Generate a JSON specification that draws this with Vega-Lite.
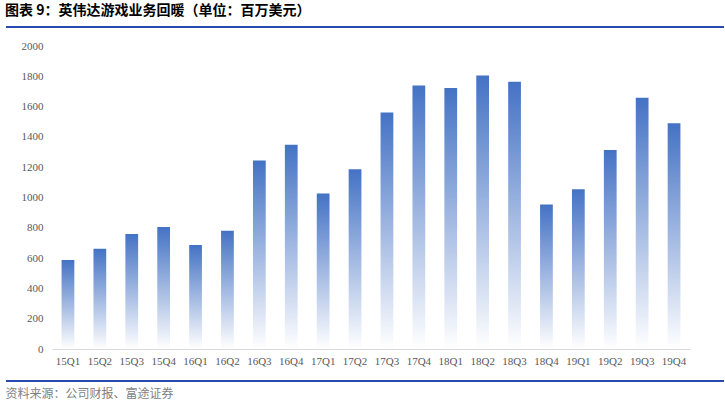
{
  "$schema": "https://vega.github.io/schema/vega-lite/v6.json",
  "width": 638,
  "height": 303,
  "autosize": {"type": "none"},
  "padding": {"left": 52, "top": 46, "right": 35, "bottom": 54},
  "background": "white",
  "title": {
    "text": "图表 9：英伟达游戏业务回暖（单位：百万美元）",
    "anchor": "start",
    "frame": "group",
    "dx": -47,
    "offset": 8,
    "font": "Noto Sans CJK SC",
    "fontSize": 14,
    "fontWeight": "bold",
    "color": "#000000"
  },
  "config": {
    "view": {"stroke": null},
    "axis": {"labelFont": "Liberation Serif", "labelFontSize": 11, "labelColor": "#595959", "titleFont": "Noto Sans CJK SC"},
    "axisY": {"grid": false, "domain": false, "ticks": false, "labelPadding": 9, "labelOverlap": false, "format": "d", "title": null}
  },
  "data": {
    "values": [
      {"quarter": "15Q1", "revenue": 588},
      {"quarter": "15Q2", "revenue": 661},
      {"quarter": "15Q3", "revenue": 759},
      {"quarter": "15Q4", "revenue": 805},
      {"quarter": "16Q1", "revenue": 687},
      {"quarter": "16Q2", "revenue": 781},
      {"quarter": "16Q3", "revenue": 1244},
      {"quarter": "16Q4", "revenue": 1348},
      {"quarter": "17Q1", "revenue": 1027},
      {"quarter": "17Q2", "revenue": 1186},
      {"quarter": "17Q3", "revenue": 1561},
      {"quarter": "17Q4", "revenue": 1739},
      {"quarter": "18Q1", "revenue": 1723},
      {"quarter": "18Q2", "revenue": 1805},
      {"quarter": "18Q3", "revenue": 1764},
      {"quarter": "18Q4", "revenue": 954},
      {"quarter": "19Q1", "revenue": 1055},
      {"quarter": "19Q2", "revenue": 1313},
      {"quarter": "19Q3", "revenue": 1659},
      {"quarter": "19Q4", "revenue": 1490}
    ]
  },
  "layer": [
    {
      "mark": {
        "type": "bar",
        "color": {
          "gradient": "linear",
          "x1": 0, "y1": 0, "x2": 0, "y2": 1,
          "stops": [
            {"offset": 0, "color": "#4472C4"},
            {"offset": 1, "color": "#FFFFFF"}
          ]
        }
      },
      "encoding": {
        "x": {
          "field": "quarter",
          "type": "nominal",
          "sort": null,
          "scale": {"paddingInner": 0.6, "paddingOuter": 0.3},
          "axis": {
            "title": "资料来源：公司财报、富途证券",
            "titleAnchor": "start",
            "titleAlign": "left",
            "titleBaseline": "middle",
            "titleX": -47,
            "titleY": 44,
            "titleFontSize": 12,
            "titleFontWeight": "normal",
            "titleColor": "#7F7F7F",
            "labelAngle": 0,
            "labelPadding": 6,
            "ticks": false,
            "domainColor": "#D9D9D9"
          }
        },
        "y": {
          "field": "revenue",
          "type": "quantitative",
          "scale": {"domain": [0, 2000]},
          "axis": {"values": [0, 200, 400, 600, 800, 1000, 1200, 1400, 1600, 1800, 2000]}
        }
      }
    },
    {
      "mark": {"type": "rule", "color": "#2A4BB0", "strokeWidth": 1.5, "xOffset": -46, "x2Offset": 34, "clip": false},
      "encoding": {
        "y": {"datum": 2125, "type": "quantitative", "axis": {"values": [0, 200, 400, 600, 800, 1000, 1200, 1400, 1600, 1800, 2000]}},
        "x": {"value": 0},
        "x2": {"value": "width"}
      }
    },
    {
      "mark": {"type": "rule", "color": "#2A4BB0", "strokeWidth": 1.5, "xOffset": -46, "x2Offset": 34, "clip": false},
      "encoding": {
        "y": {"datum": -211, "type": "quantitative", "axis": {"values": [0, 200, 400, 600, 800, 1000, 1200, 1400, 1600, 1800, 2000]}},
        "x": {"value": 0},
        "x2": {"value": "width"}
      }
    }
  ]
}
